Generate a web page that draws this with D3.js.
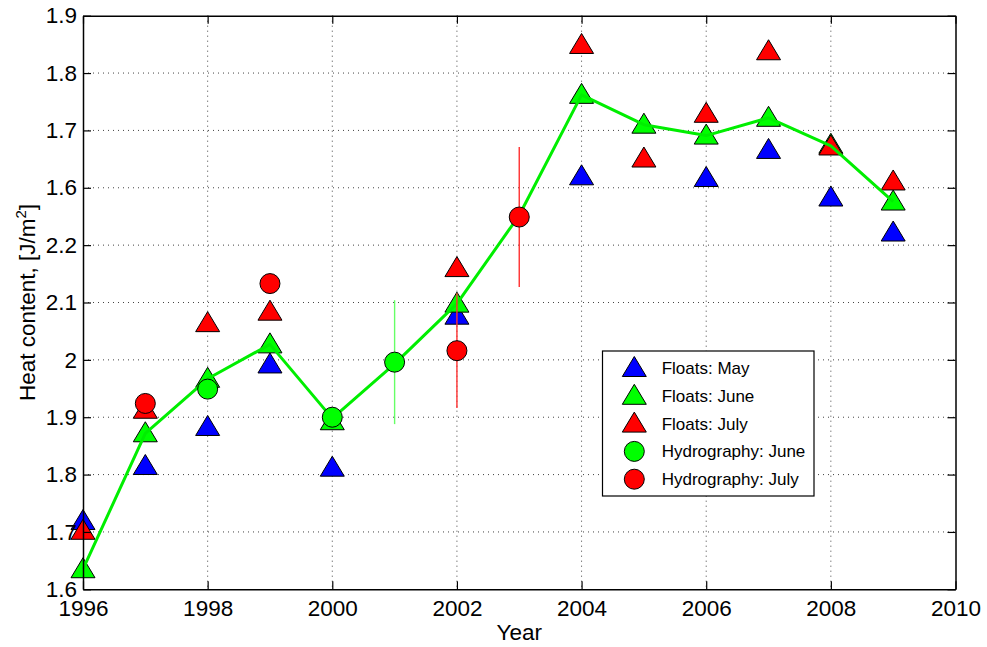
<!DOCTYPE html>
<html>
<head>
<meta charset="utf-8">
<script src="https://cdn.jsdelivr.net/npm/d3@7"></script>
<style>
  html, body { margin: 0; padding: 0; background: #fff; }
  svg { display: block; font-family: "Liberation Sans", Arial, Helvetica, sans-serif; }
</style>
</head>
<body>
<svg id="chart" width="987" height="647"></svg>
<script>
// Years on the x axis
const years = [1996, 1997, 1998, 1999, 2000, 2001, 2002, 2003, 2004, 2005, 2006, 2007, 2008, 2009];

// Float estimates per month (null where no estimate exists)
const floatsMay  = [1.719, 1.815, 1.883, 1.992, 1.812, null, 2.077, null, 2.320, null, 2.317, 2.366, 2.283, 2.222];
const floatsJune = [1.635, 1.872, 1.967, 2.027, 1.893, null, 2.098, null, 2.462, 2.410, 2.391, 2.422, 2.375, 2.276];
const floatsJuly = [1.702, 1.913, 2.064, 2.084, null, null, 2.160, null, 2.549, 2.351, 2.429, 2.538, 2.372, 2.311];

// Hydrographic estimates with error half-widths
const hydroJuneYears = [1998, 2000, 2001];
const hydroJune      = [1.949, 1.900, 1.996];
const hydroJuneErr   = [0, 0, 0.108];
const hydroJulyYears = [1997, 1999, 2002, 2003];
const hydroJuly      = [1.924, 2.133, 2.016, 2.249];
const hydroJulyErr   = [0, 0, 0.100, 0.122];

// Combined June series drawn as a line
const combined = [1.635, 1.872, 1.967, 2.027, 1.898, 1.993, 2.098, 2.252, 2.462, 2.410, 2.391, 2.422, 2.373, 2.276];

// Axis ticks and their labels
const xTicks = [1996, 1998, 2000, 2002, 2004, 2006, 2008, 2010];
const yTicks = [1.6, 1.7, 1.8, 1.9, 2.0, 2.1, 2.2, 2.3, 2.4, 2.5, 2.6];
const yTickLabels = ["1.6", "1.7", "1.8", "1.9", "2", "2.1", "2.2", "1.6", "1.7", "1.8", "1.9"];

const legendItems = [
  { label: "Floats: May",        shape: "tri", color: "#0000ff" },
  { label: "Floats: June",       shape: "tri", color: "#00ff00" },
  { label: "Floats: July",       shape: "tri", color: "#ff0000" },
  { label: "Hydrography: June",  shape: "circ", color: "#00ff00" },
  { label: "Hydrography: July",  shape: "circ", color: "#ff0000" }
];

const svg = d3.select("#chart");
const L = 83, R = 955.5, T = 15.7, B = 589.3;

const x = d3.scaleLinear().domain([1996, 2010]).range([L, R]);
const y = d3.scaleLinear().domain([1.6, 2.6]).range([B, T]);

// Dotted grid
const grid = svg.append("g").attr("stroke", "#444").attr("stroke-width", 1).attr("stroke-dasharray", "1,4");
grid.selectAll("line.gx").data(xTicks.slice(1, -1)).join("line")
  .attr("x1", d => x(d)).attr("x2", d => x(d)).attr("y1", T).attr("y2", B);
grid.selectAll("line.gy").data(yTicks.slice(1, -1)).join("line")
  .attr("x1", L).attr("x2", R).attr("y1", d => y(d)).attr("y2", d => y(d));

// Marker shapes
const triPath = "M0,-11.5L12,8.5L-12,8.5Z";
function triangles(values, color) {
  const pts = years.map((yr, i) => ({ yr, v: values[i] })).filter(d => d.v != null);
  svg.append("g").selectAll("path").data(pts).join("path")
    .attr("d", triPath)
    .attr("transform", d => `translate(${x(d.yr)},${y(d.v)})`)
    .attr("fill", color).attr("stroke", "#000").attr("stroke-width", 1);
}
triangles(floatsMay, "#0000ff");
triangles(floatsJune, "#00ff00");
triangles(floatsJuly, "#ff0000");

// Combined line
const line = d3.line().x((d, i) => x(years[i])).y(d => y(d));
svg.append("path").datum(combined)
  .attr("d", line).attr("fill", "none")
  .attr("stroke", "#00ee00").attr("stroke-width", 3).attr("stroke-linejoin", "round");

// Error bars
function errorBars(ys, vals, errs, color) {
  const pts = ys.map((yr, i) => ({ yr, v: vals[i], e: errs[i] })).filter(d => d.e > 0);
  svg.append("g").selectAll("line").data(pts).join("line")
    .attr("x1", d => x(d.yr)).attr("x2", d => x(d.yr))
    .attr("y1", d => y(d.v + d.e)).attr("y2", d => y(d.v - d.e))
    .attr("stroke", color).attr("stroke-width", 1.4);
}
errorBars(hydroJuneYears, hydroJune, hydroJuneErr, "#66ff66");
errorBars(hydroJulyYears, hydroJuly, hydroJulyErr, "#ff3030");

function circles(ys, vals, color) {
  svg.append("g").selectAll("circle").data(ys.map((yr, i) => ({ yr, v: vals[i] }))).join("circle")
    .attr("cx", d => x(d.yr)).attr("cy", d => y(d.v)).attr("r", 10)
    .attr("fill", color).attr("stroke", "#000").attr("stroke-width", 1);
}
circles(hydroJuneYears, hydroJune, "#00ff00");
circles(hydroJulyYears, hydroJuly, "#ff0000");

// Axes: ticks point inward on all four sides
const fontSize = 22.5;
const bottomAxis = svg.append("g").attr("transform", `translate(0,${B})`)
  .call(d3.axisBottom(x).tickValues(xTicks).tickFormat(d3.format("d")).tickSizeInner(-8).tickSizeOuter(0).tickPadding(11));
const leftAxis = svg.append("g").attr("transform", `translate(${L},0)`)
  .call(d3.axisLeft(y).tickValues(yTicks).tickFormat((d, i) => yTickLabels[i]).tickSizeInner(-8).tickSizeOuter(0).tickPadding(6));
const topAxis = svg.append("g").attr("transform", `translate(0,${T})`)
  .call(d3.axisTop(x).tickValues(xTicks).tickFormat("").tickSizeInner(-8).tickSizeOuter(0));
const rightAxis = svg.append("g").attr("transform", `translate(${R},0)`)
  .call(d3.axisRight(y).tickValues(yTicks).tickFormat("").tickSizeInner(-8).tickSizeOuter(0));

[bottomAxis, leftAxis, topAxis, rightAxis].forEach(g => {
  g.select(".domain").attr("stroke", "#000").attr("stroke-width", 1.5);
  g.selectAll(".tick line").attr("stroke", "#000").attr("stroke-width", 1.2);
  g.selectAll("text").attr("fill", "#000").style("font-size", fontSize + "px")
    .style("font-family", "\"Liberation Sans\", Arial, Helvetica, sans-serif");
});

// Axis titles
svg.append("text").attr("x", (L + R) / 2).attr("y", 640).attr("text-anchor", "middle")
  .style("font-size", fontSize + "px").text("Year");
const ylab = svg.append("text")
  .attr("transform", `translate(35,${(T + B) / 2}) rotate(-90)`)
  .attr("text-anchor", "middle").style("font-size", fontSize + "px");
ylab.append("tspan").text("Heat content, [J/m");
ylab.append("tspan").attr("dy", -9).style("font-size", "15px").text("2");
ylab.append("tspan").attr("dy", 9).text("]");

// Legend
const lg = svg.append("g");
lg.append("rect").attr("x", 602.5).attr("y", 351).attr("width", 211.5).attr("height", 145)
  .attr("fill", "#fff").attr("stroke", "#000").attr("stroke-width", 1.2);
const rows = lg.selectAll("g.row").data(legendItems).join("g")
  .attr("transform", (d, i) => `translate(634.3,${368 + i * 27.8})`);
rows.filter(d => d.shape === "tri").append("path").attr("d", triPath)
  .attr("fill", d => d.color).attr("stroke", "#000").attr("stroke-width", 1);
rows.filter(d => d.shape === "circ").append("circle").attr("r", 10)
  .attr("fill", d => d.color).attr("stroke", "#000").attr("stroke-width", 1);
rows.append("text").attr("x", 27.4).attr("dy", "0.35em")
  .style("font-size", "17px").text(d => d.label);
</script>
</body>
</html>
